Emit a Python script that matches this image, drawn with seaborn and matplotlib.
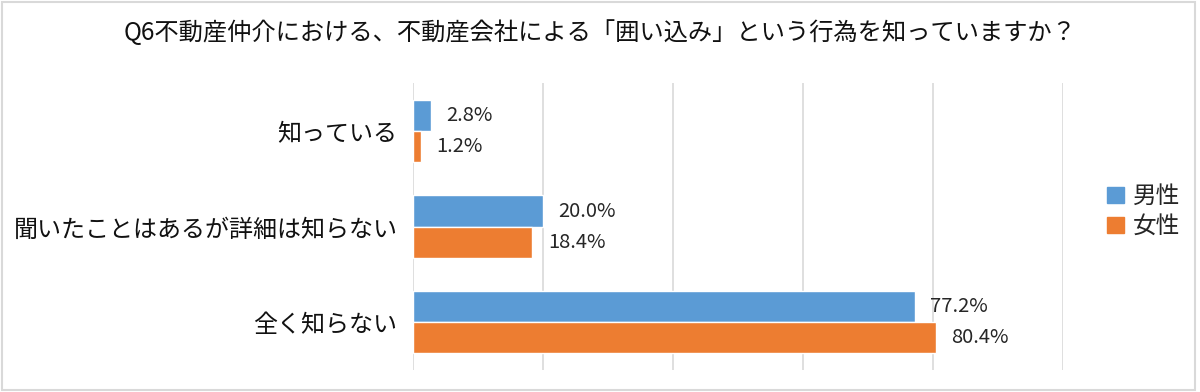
import matplotlib
matplotlib.use('Agg')
import matplotlib.pyplot as plt
import seaborn as sns
import pandas as pd
from matplotlib.patches import Rectangle

# data
categories = ["知っている", "聞いたことはあるが詳細は知らない", "全く知らない"]
series = ["男性", "女性"]
male = [2.8, 20.0, 77.2]
female = [1.2, 18.4, 80.4]
colors = ["#5B9BD5", "#ED7D31"]
title = "Q6不動産仲介における、不動産会社による「囲い込み」という行為を知っていますか？"

df = pd.DataFrame({
    "category": categories * 2,
    "sex": [series[0]] * len(categories) + [series[1]] * len(categories),
    "value": male + female,
})

sns.set_theme(style="white")
plt.rcParams['font.family'] = ['Noto Sans CJK JP', 'DejaVu Sans']

fig = plt.figure(figsize=(12, 3.92), dpi=100)
ax = fig.add_axes([0.344, 0.056, 0.542, 0.732])

sns.barplot(data=df, y="category", x="value", hue="sex", orient="h",
            palette=colors, width=0.65, ax=ax, legend=False, saturation=1)

for cont in ax.containers:
    ax.bar_label(cont, fmt="%.1f%%", padding=11, fontsize=14.5, color="#262626")

ax.set_xlim(0, 100)
ax.set_ylim(2.5, -0.5)
ax.set_xticks(range(0, 101, 20))
ax.set_xticklabels([])
ax.tick_params(axis="x", length=0)
ax.tick_params(axis="y", length=0, labelsize=17.3, pad=11, labelcolor="#111111")
ax.grid(axis="x", color="#D9D9D9", linewidth=1.2)
ax.set_axisbelow(True)
for s in ax.spines.values():
    s.set_visible(False)
ax.set_xlabel("")
ax.set_ylabel("")

handles = [Rectangle((0, 0), 1, 1, color=c) for c in colors]
fig.legend(handles, series, loc="center left", bbox_to_anchor=(0.905, 0.46),
           frameon=False, fontsize=17, handlelength=0.7, handleheight=0.7,
           handletextpad=0.4, labelspacing=0.3)

fig.text(0.5, 0.915, title, ha="center", va="center", fontsize=17.5, color="#111111")

# light chart frame
fig.patches.append(Rectangle((0.002, 0.004), 0.994, 0.992, transform=fig.transFigure,
                             fill=False, edgecolor="#D9D9D9", linewidth=1.5))

fig.savefig("out.png", dpi=100)
